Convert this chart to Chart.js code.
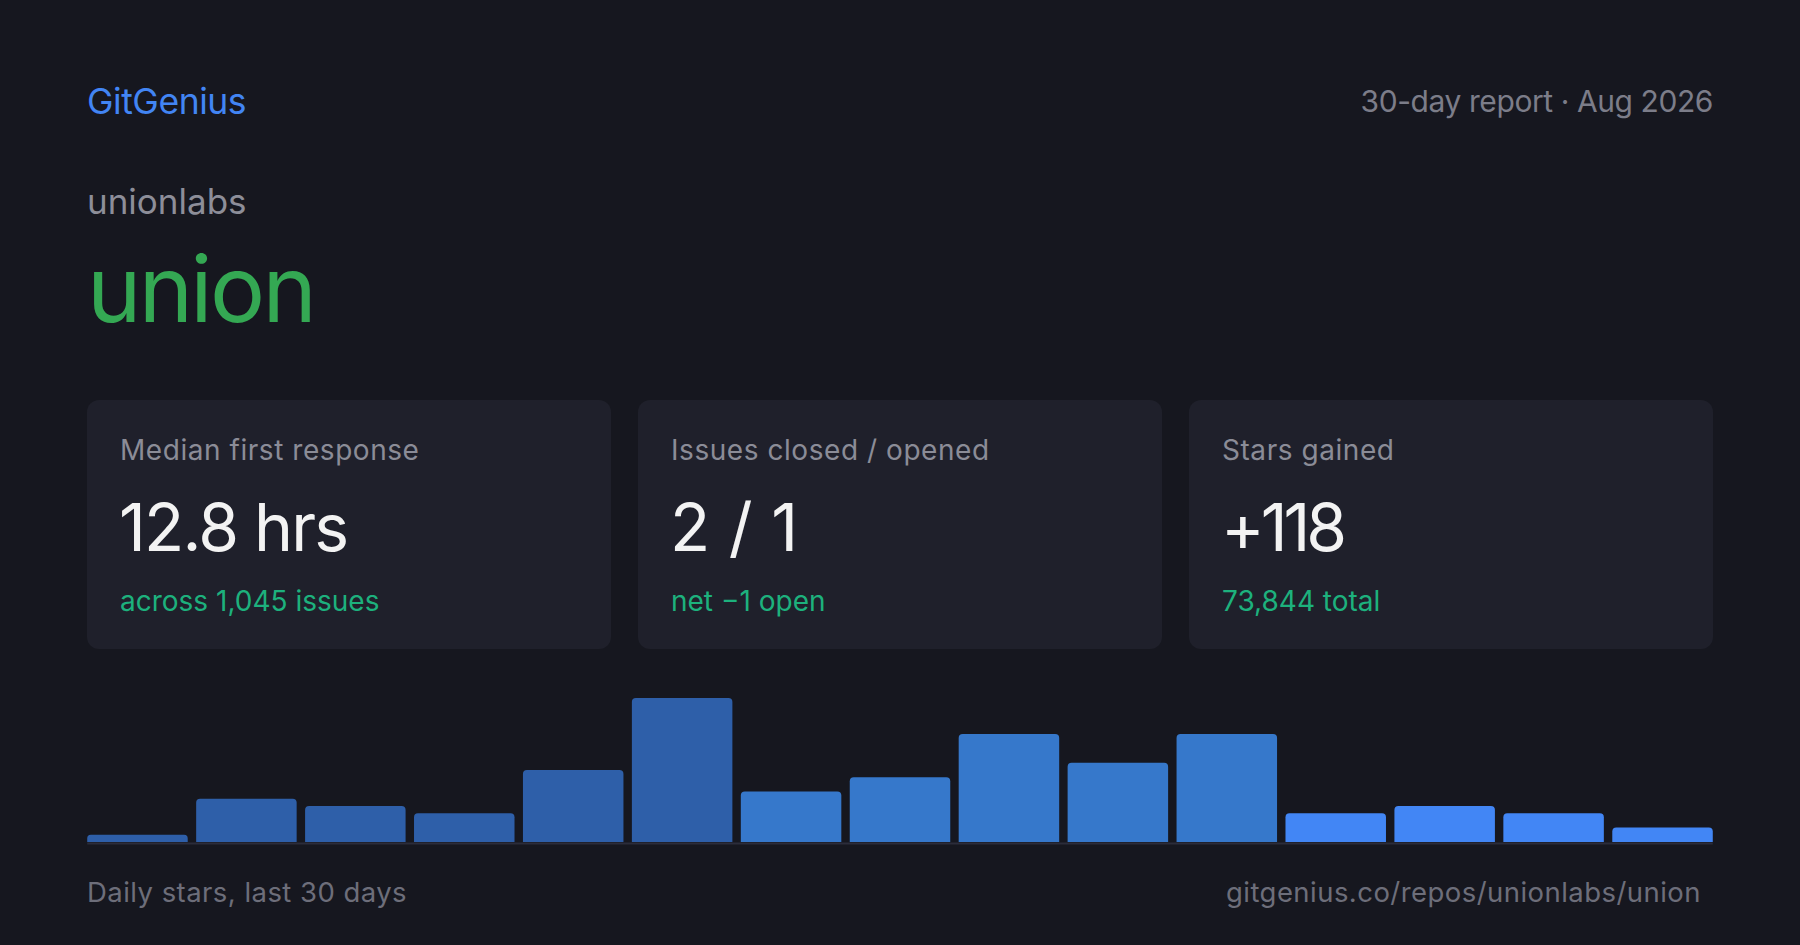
<!DOCTYPE html>
<html>
<head>
<meta charset="utf-8">
<script src="https://cdn.jsdelivr.net/npm/chart.js@4"></script>
<style>
  html, body { margin: 0; padding: 0; }
  body { width: 1800px; height: 945px; background: #16171f; font-family: Inter, "Noto Sans", sans-serif; position: relative; overflow: hidden; }
  .t { position: absolute; line-height: 1; white-space: nowrap; }
  #brand { left: 87px; top: 84px; font-size: 35.5px; letter-spacing: -0.45px; color: #4285f4; }
  #period { right: 87px; top: 86px; font-size: 30px; letter-spacing: -0.42px; color: #7c7d89; }
  #owner { left: 87px; top: 184px; font-size: 35px; color: #8d8e99; }
  #repo { left: 87px; top: 243px; font-size: 92px; letter-spacing: -2.7px; color: #34a853; }
  #cards { position: absolute; left: 87px; top: 400px; width: 1626px; height: 249px; display: grid; grid-template-columns: repeat(3, 1fr); column-gap: 27px; }
  .card { position: relative; background: #1f202b; border-radius: 12px; }
  .card .lbl { left: 33px; top: 36px; font-size: 28px; letter-spacing: 0.55px; color: #8b8c97; }
  .card .val { left: 32px; top: 94px; font-size: 66px; color: #f3f3f3; }
  .card .sub { left: 33px; top: 187px; font-size: 28px; color: #1db17d; }
  #chartBox { position: absolute; left: 83px; top: 698px; width: 1634px; height: 148px; }
  #caption { left: 87px; top: 879px; font-size: 27.5px; letter-spacing: 0.45px; color: #6d6e7a; }
  #link { right: 99px; top: 879px; font-size: 27.5px; letter-spacing: 0.45px; color: #6d6e7a; }
</style>
</head>
<body>
<div class="t" id="brand">GitGenius</div>
<div class="t" id="period">30-day report · Aug 2026</div>
<div class="t" id="owner">unionlabs</div>
<div class="t" id="repo">union</div>

<div id="cards"></div>

<div id="chartBox"><canvas id="stars"></canvas></div>

<div class="t" id="caption">Daily stars, last 30 days</div>
<div class="t" id="link">gitgenius.co/repos/unionlabs/union</div>

<script>
// Stat cards
const cardLabels = ['Median first response', 'Issues closed / opened', 'Stars gained'];
const cardValues = ['12.8 hrs', '2 / 1', '+118'];
const cardNotes = ['across 1,045 issues', 'net \u22121 open', '73,844 total'];
// tracking for the big numbers (px), so they sit like the design font
const valueTracking = [-1.8, 0, -4];

// Stars per bucket (2 days each, oldest first)
const buckets = ['1', '2', '3', '4', '5', '6', '7', '8', '9', '10', '11', '12', '13', '14', '15'];
const stars = [1, 6, 5, 4, 10, 20, 7, 9, 15, 11, 15, 4, 5, 4, 2];
const starsMax = 20;

const cardsEl = document.getElementById('cards');
cardLabels.forEach((label, i) => {
  const card = document.createElement('div');
  card.className = 'card';
  card.innerHTML = `
    <div class="t lbl">${label}</div>
    <div class="t val" style="letter-spacing:${valueTracking[i]}px">${cardValues[i]}</div>
    <div class="t sub">${cardNotes[i]}</div>
  `;
  cardsEl.appendChild(card);
});

// older buckets are dimmer
function barColor(ctx) {
  const i = ctx.dataIndex;
  if (i < 6) return '#2e5fa9';
  if (i < 11) return '#3678cb';
  return '#4286f5';
}

// thin line under the bars, from first bar edge to last bar edge
const baseline = {
  id: 'baseline',
  afterDatasetsDraw(chart) {
    const bars = chart.getDatasetMeta(0).data;
    if (!bars.length) return;
    const first = bars[0], last = bars[bars.length - 1];
    const c = chart.ctx;
    const y = chart.chartArea.bottom;
    c.save();
    c.fillStyle = '#2b2c3a';
    c.fillRect(first.x - first.width / 2, y + 0.5, (last.x + last.width / 2) - (first.x - first.width / 2), 2);
    c.restore();
  }
};

new Chart(document.getElementById('stars'), {
  type: 'bar',
  data: {
    labels: buckets,
    datasets: [{
      data: stars,
      backgroundColor: barColor,
      borderRadius: 4,
      borderSkipped: 'start',
      barPercentage: 0.9226,
      categoryPercentage: 1,
    }],
  },
  options: {
    responsive: true,
    maintainAspectRatio: false,
    animation: false,
    layout: { padding: { bottom: 4 } },
    plugins: {
      legend: { display: false },
      tooltip: { enabled: false },
    },
    scales: {
      x: { display: false },
      y: { display: false, min: 0, max: starsMax },
    },
  },
  plugins: [baseline],
});
</script>
</body>
</html>
